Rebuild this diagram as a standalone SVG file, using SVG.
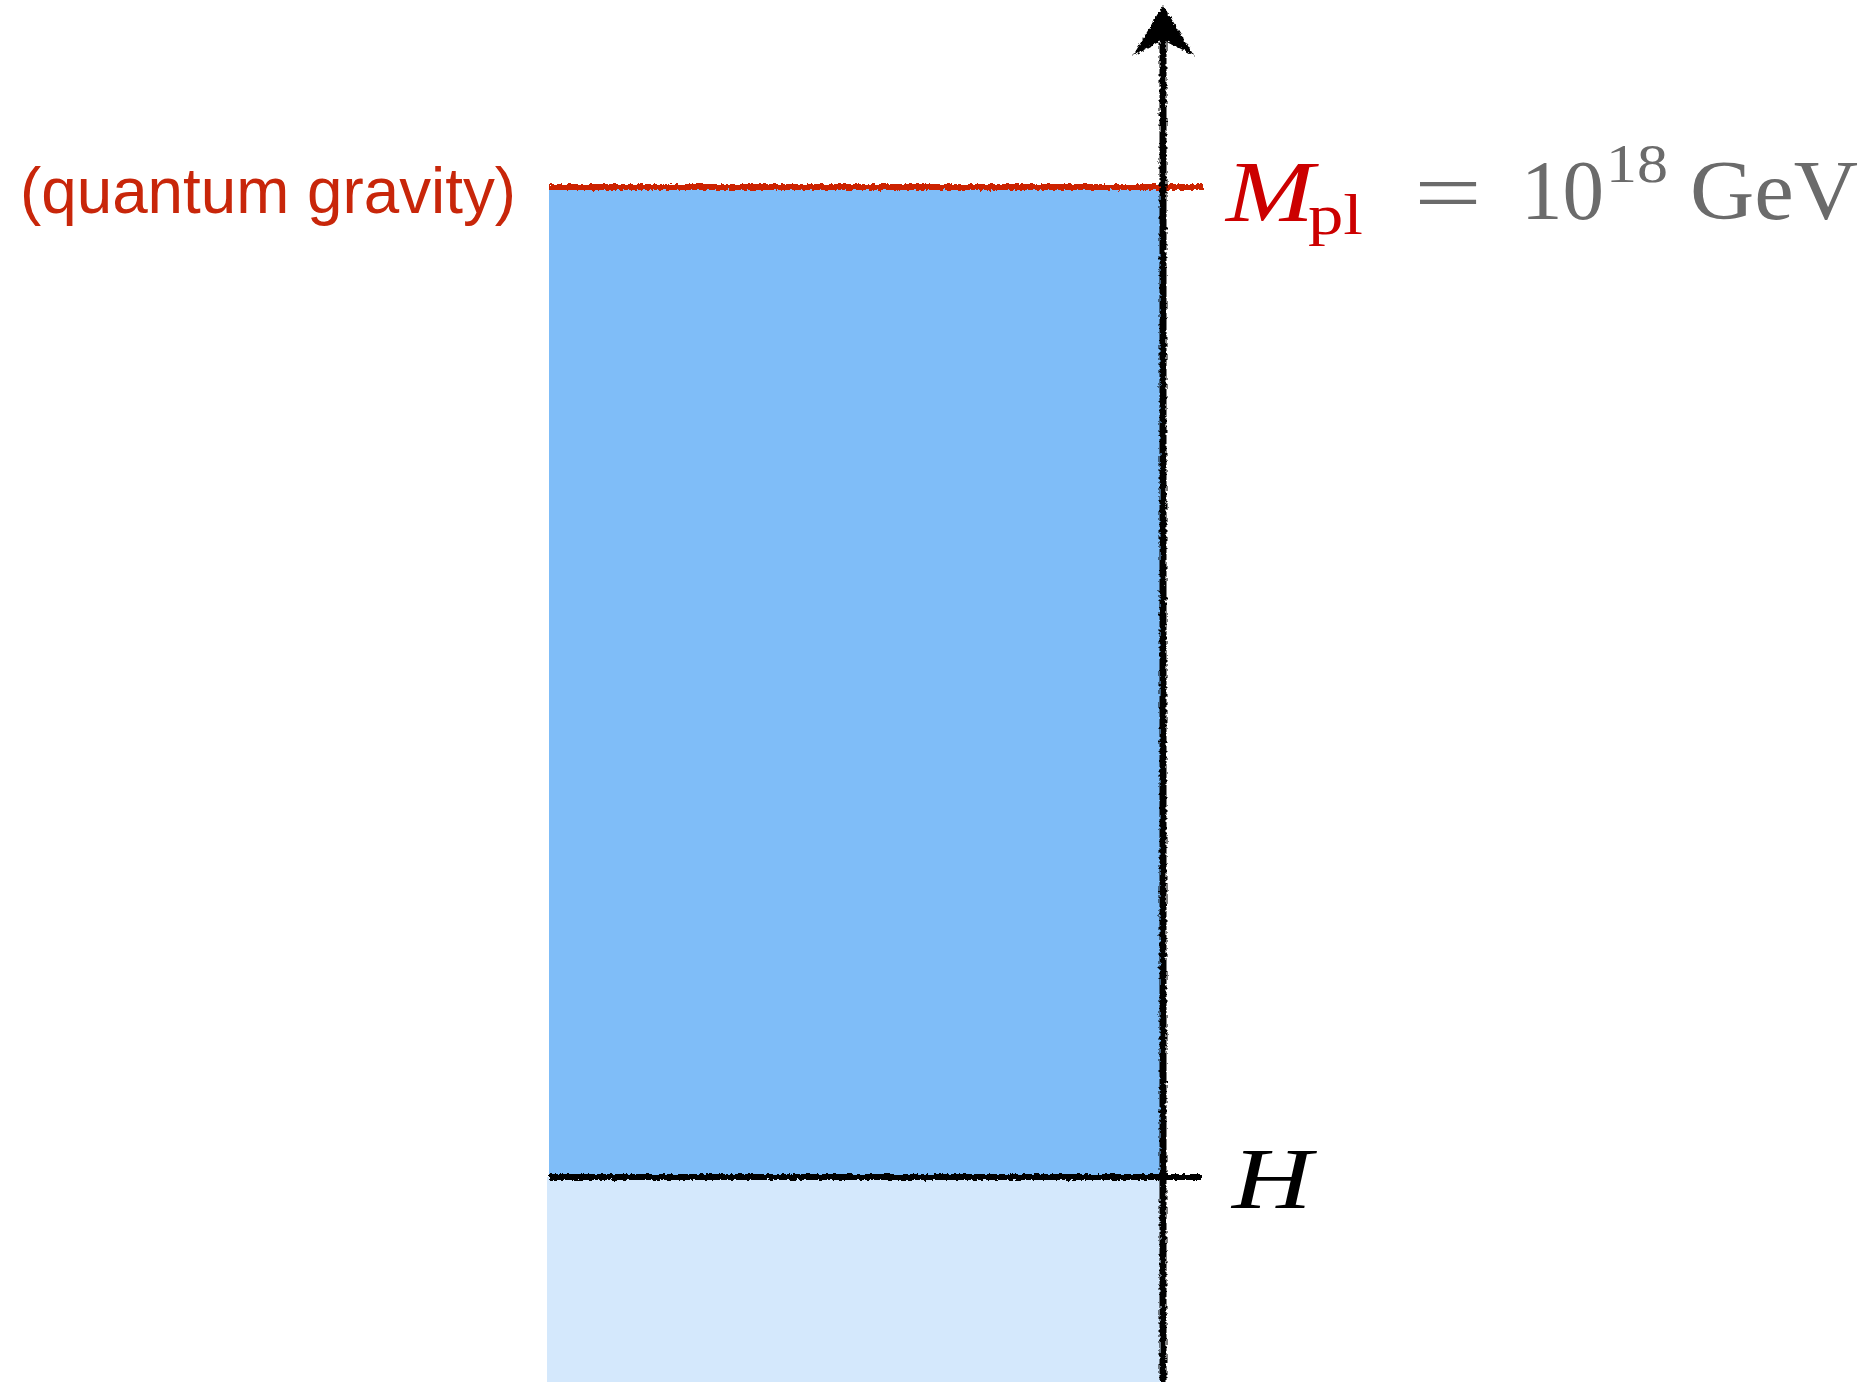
<svg xmlns="http://www.w3.org/2000/svg" width="1869" height="1382" viewBox="0 0 1869 1382">
<style>
.rough{filter:url(#rough);stroke-linecap:butt}
.line{fill:none}
.cm{font-family:"Liberation Serif","DejaVu Serif",serif}
.grey{fill:#6b6b6b}
</style>
<defs>
<filter id="rough" filterUnits="userSpaceOnUse" x="0" y="0" width="1869" height="1382">
<feTurbulence type="fractalNoise" baseFrequency="0.3" numOctaves="2" seed="3" result="n"/>
<feDisplacementMap in="SourceGraphic" in2="n" scale="5" xChannelSelector="R" yChannelSelector="G"/>
</filter>
</defs>
<rect width="1869" height="1382" fill="#ffffff"/>
<g id="regions">
<rect id="region-high" x="549" y="187" width="614" height="990" fill="#7fbdf8"/>
<rect id="region-low" x="547" y="1177" width="616" height="205" fill="#d4e8fc"/>
</g>
<g id="connectors">
<line class="rough line" x1="549" y1="187" x2="1203" y2="187" stroke="#cc2200" stroke-width="6"/>
<line class="rough line" x1="549" y1="1177" x2="1201" y2="1177" stroke="#000" stroke-width="6"/>
<line class="rough line" x1="1163" y1="30" x2="1163" y2="1382" stroke="#000" stroke-width="7"/>
<path class="rough" d="M1163,8 L1190,52 L1163,38 L1137,52 Z" fill="#000" stroke="#000" stroke-width="3"/>
</g>
<g id="label-qg">
<text x="20" y="213" font-family="'Liberation Sans',Arial,sans-serif" font-size="65" fill="#c8260a" textLength="496" lengthAdjust="spacingAndGlyphs">(quantum gravity)</text>
</g>
<g id="label-mpl">
<text class="cm" x="1226" y="221" font-size="86" font-style="italic" fill="#cc0000" textLength="88" lengthAdjust="spacingAndGlyphs">M</text>
<text class="cm" x="1308" y="234" font-size="58" fill="#cc0000" textLength="55" lengthAdjust="spacingAndGlyphs">pl</text>
<text class="cm grey" x="1414" y="222" font-size="86" textLength="68" lengthAdjust="spacingAndGlyphs">=</text>
<text class="cm grey" x="1521" y="219" font-size="84" textLength="83" lengthAdjust="spacingAndGlyphs">10</text>
<text class="cm grey" x="1606" y="182" font-size="55" textLength="62" lengthAdjust="spacingAndGlyphs">18</text>
<text class="cm grey" x="1690" y="219" font-size="84" textLength="168" lengthAdjust="spacingAndGlyphs">GeV</text>
</g>
<g id="label-h">
<text class="cm" x="1232" y="1208" font-size="86" font-style="italic" fill="#000" textLength="80" lengthAdjust="spacingAndGlyphs">H</text>
</g>
</svg>
